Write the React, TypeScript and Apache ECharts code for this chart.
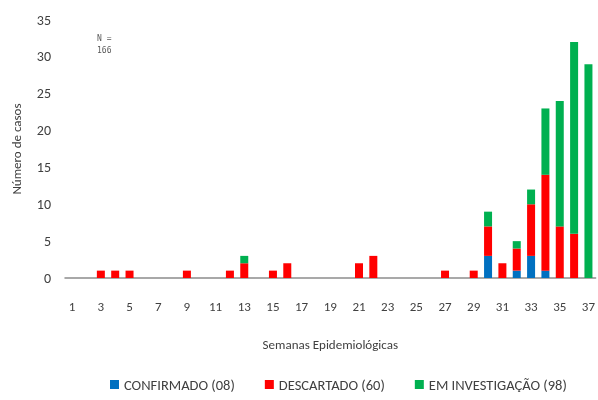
import React, { useEffect, useRef } from "react";
import * as echarts from "echarts";

const weeks = Array.from({ length: 37 }, (_, i) => String(i + 1));
// values per week 1..37
const confirmado = [0,0,0,0,0,0,0,0,0,0,0,0,0,0,0,0,0,0,0,0,0,0,0,0,0,0,0,0,0,3,0,1,3,1,0,0,0];
const descartado = [0,0,1,1,1,0,0,0,1,0,0,1,2,0,1,2,0,0,0,0,2,3,0,0,0,0,1,0,1,4,2,3,7,13,7,6,0];
const investigacao = [0,0,0,0,0,0,0,0,0,0,0,0,1,0,0,0,0,0,0,0,0,0,0,0,0,0,0,0,0,2,0,1,2,9,17,26,29];
const seriesNames = ["CONFIRMADO (08)", "DESCARTADO (60)", "EM INVESTIGAÇÃO (98)"];
const colors = ["#0070C0", "#FF0000", "#00B050"];

const FONT = "Carlito, 'Liberation Sans Narrow', 'DejaVu Sans Condensed', sans-serif";

export default function App() {
  const ref = useRef<HTMLDivElement>(null);
  useEffect(() => {
    if (!ref.current) return;
    const chart = echarts.init(ref.current, undefined, { renderer: "svg" });
    const mk = (name: string, data: number[], color: string) => ({
      name,
      type: "bar",
      stack: "total",
      data: data.map((v) => (v === 0 ? null : v)),
      barWidth: 8,
      itemStyle: { color },
    });
    chart.setOption({
      animation: false,
      textStyle: { fontFamily: FONT },
      grid: { left: 65, right: 0, top: 20, bottom: 122 },
      legend: {
        left: 105,
        top: 372,
        icon: "rect",
        itemWidth: 9,
        itemHeight: 9,
        itemGap: 30,
        textStyle: { fontFamily: FONT, fontSize: 14.5, color: "#404040" },
        data: seriesNames,
      },
      xAxis: {
        type: "category",
        data: weeks,
        name: "Semanas Epidemiológicas",
        nameLocation: "middle",
        nameGap: 60,
        nameTextStyle: { fontFamily: FONT, fontSize: 13, color: "#404040" },
        axisLine: { lineStyle: { color: "#8c8c8c", width: 1.5 } },
        axisTick: { show: false },
        axisLabel: { interval: 1, margin: 22, fontSize: 13, color: "#404040", fontFamily: FONT },
      },
      yAxis: {
        type: "value",
        min: 0,
        max: 35,
        interval: 5,
        name: "Número de casos",
        nameLocation: "middle",
        nameGap: 42,
        nameTextStyle: { fontFamily: FONT, fontSize: 13, color: "#404040" },
        axisLine: { show: false },
        axisTick: { show: false },
        splitLine: { show: false },
        axisLabel: { margin: 14, fontSize: 14, color: "#404040", fontFamily: FONT },
      },
      graphic: [
        {
          type: "text",
          left: 97,
          top: 32,
          style: { text: "N =\n166", fontSize: 8, lineHeight: 12, fill: "#595959", fontFamily: "'DejaVu Sans Mono', monospace" },
        },
      ],
      series: [
        mk(seriesNames[0], confirmado, colors[0]),
        mk(seriesNames[1], descartado, colors[1]),
        mk(seriesNames[2], investigacao, colors[2]),
      ],
    });
    return () => chart.dispose();
  }, []);
  return <div ref={ref} style={{ position: "fixed", left: 0, top: 0, width: 598, height: 400 }} />;
}
